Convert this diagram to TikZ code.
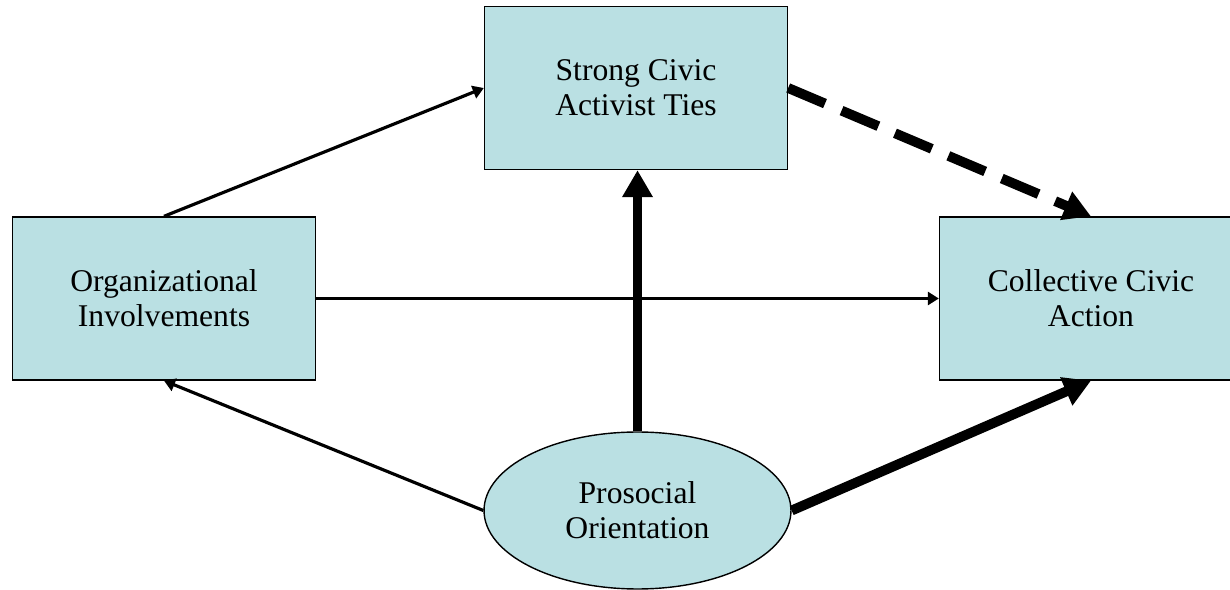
\documentclass[tikz,border=0pt]{standalone}
\usepackage{fontspec}
\setmainfont{Liberation Serif}
\usetikzlibrary{arrows.meta,shapes.geometric}
\definecolor{boxfill}{RGB}{186, 224, 227}
\tikzset{
	factor/.style={draw=black, fill=boxfill, line width=0.8pt, minimum width=6.06cm, minimum height=3.26cm, align=center, font=\fontsize{18}{20}\selectfont},
	origin/.style={ellipse, draw=black, fill=boxfill, line width=0.8pt, minimum width=6.14cm, minimum height=3.14cm, inner sep=0pt, align=center, font=\fontsize{18}{20}\selectfont},
	weak/.style={line width=1.8pt, -{Triangle[length=0.22cm, width=0.26cm]}},
	strong/.style={line width=5.6pt, -{Triangle[length=0.54cm, width=0.58cm]}},
	ties/.style={strong, dash pattern=on 0.8cm off 0.36cm}
}
\begin{document}
\begin{tikzpicture}[x=0.02cm, y=-0.02cm]
			\useasboundingbox (0, 0) rectangle (1230, 590);
			\node[factor] (ties) at (636, 88) {Strong Civic\\Activist Ties};
			\node[factor] (org) at (164, 298.5) {Organizational\\Involvements};
			\node[factor] (action) at (1091, 298.5) {Collective Civic\\Action};
			\node[origin] (pro) at (637.5, 510.5) {Prosocial\\Orientation};
			\draw[weak] (org.north) -- (ties.west);
			\draw[weak] (org.east) -- (action.west);
			\draw[weak] (pro.west) -- (org.south);
			\draw[strong] (pro.north) -- (pro.north |- ties.south);
			\draw[strong] (pro.east) -- (action.south);
			\draw[ties] (ties.east) -- (action.north);
		\end{tikzpicture}
\end{document}
